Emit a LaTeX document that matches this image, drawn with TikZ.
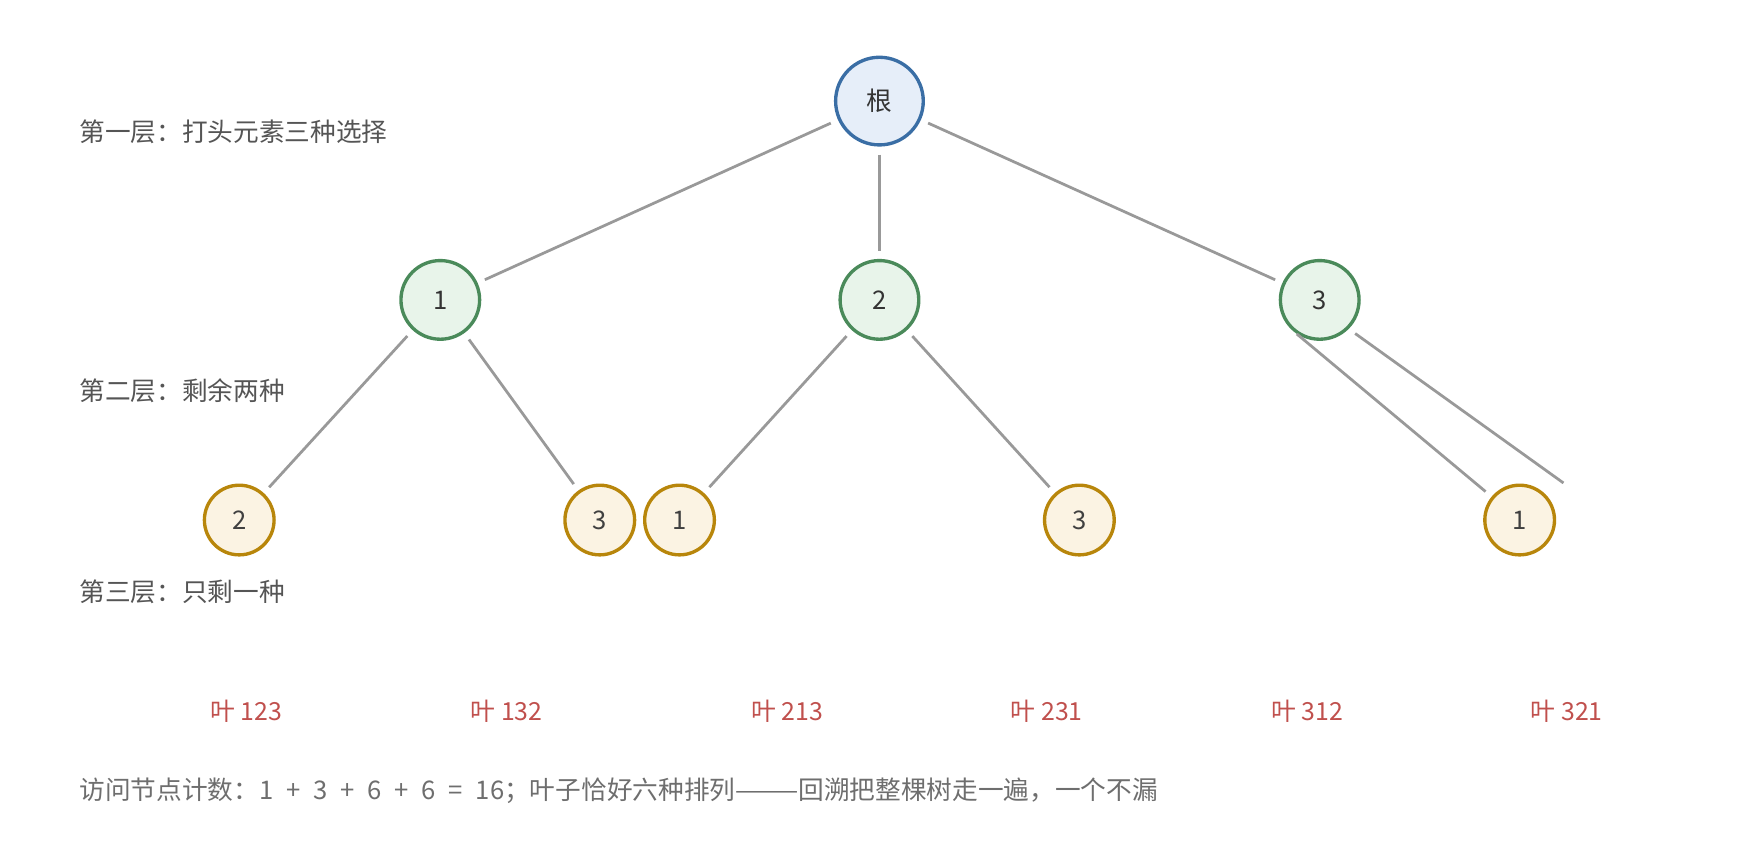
\documentclass[tikz,border=0pt]{standalone}
\usepackage{fontspec}
\setmainfont{Noto Sans CJK SC}
\usetikzlibrary{positioning}
\definecolor{rootfill}{HTML}{E6EEF9}
\definecolor{rootline}{HTML}{3A6EA5}
\definecolor{midfill}{HTML}{E8F4EA}
\definecolor{midline}{HTML}{4A8A5A}
\definecolor{leaffill}{HTML}{FBF3E3}
\definecolor{leafline}{HTML}{B8860B}
\definecolor{edgegray}{HTML}{999999}
\definecolor{leafred}{HTML}{C0504D}
\definecolor{notegray}{HTML}{555555}
\newcommand{\gap}{\hspace{0.5em}}
\tikzset{
  rootnode/.style={circle,draw=rootline,fill=rootfill,line width=0.85pt,minimum size=0.78cm,inner sep=0pt,font=\fontsize{6.5pt}{7pt}\selectfont,text=black!80},
  midnode/.style={circle,draw=midline,fill=midfill,line width=0.85pt,minimum size=0.70cm,inner sep=0pt,font=\fontsize{6.5pt}{7pt}\selectfont,text=black!80},
  leafnode/.style={circle,draw=leafline,fill=leaffill,line width=0.85pt,minimum size=0.62cm,inner sep=0pt,font=\fontsize{6.5pt}{7pt}\selectfont,text=black!75},
  branch/.style={draw=edgegray,line width=0.7pt,shorten <=2pt,shorten >=2pt},
  level/.style={anchor=west,inner sep=0pt,text=notegray,font=\fontsize{6.5pt}{7pt}\selectfont},
  leaflabel/.style={text=leafred,font=\fontsize{6.3pt}{7pt}\selectfont}
}
\begin{document}
\begin{tikzpicture}[x=0.01cm,y=-0.01cm]
\useasboundingbox (0,0) rectangle (1567,766);
% nodes
\node[rootnode] (root) at (783,90) {根};
\node[midnode] (m1) at (392,267) {1};
\node[midnode] (m2) at (783,267) {2};
\node[midnode] (m3) at (1175,267) {3};
\node[leafnode] (l12) at (213,463) {2};
\node[leafnode] (l13) at (534,463) {3};
\node[leafnode] (l21) at (605,463) {1};
\node[leafnode] (l23) at (961,463) {3};
\node[leafnode] (l31) at (1353,463) {1};
\coordinate (l32) at (1392,430);
% connectors
\draw[branch] (root) -- (m1);
\draw[branch] (root) -- (m2);
\draw[branch] (root) -- (m3);
\draw[branch] (m1) -- (l12);
\draw[branch] (m1) -- (l13);
\draw[branch] (m2) -- (l21);
\draw[branch] (m2) -- (l23);
\draw[branch] (m3.south west) -- (l31);
\draw[branch,shorten >=0pt] (m3.south east) -- (l32);
% level notes
\node[level] (t1) at (70,117) {第一层：打头元素三种选择};
\node[level] (t2) at (70,348) {第二层：剩余两种};
\node[level] (t3) at (70,527) {第三层：只剩一种};
% leaves
\foreach \x/\p in {219/123,451/132,701/213,932/231,1164/312,1395/321}
  \node[leaflabel] (p\p) at (\x,633) {叶 \p};
\node[level,text=notegray!85] (sum) at (70,704) {访问节点计数：1\gap+\gap3\gap+\gap6\gap+\gap6\gap=\gap16；叶子恰好六种排列———回溯把整棵树走一遍，一个不漏};
\end{tikzpicture}
\end{document}
